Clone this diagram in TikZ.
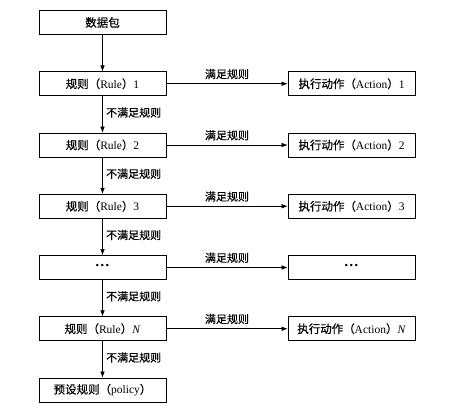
\documentclass[tikz,border=0pt]{standalone}
\usepackage{fontspec}
\setmainfont{Liberation Serif}
\newfontfamily\cjk[FakeBold=0.4]{Noto Sans CJK SC}
\usetikzlibrary{arrows.meta}
\tikzset{
  box/.style={draw,line width=0.8pt,minimum width=127pt,minimum height=24pt,inner sep=0pt,font=\fontsize{11.5}{13}\selectfont},
  arr/.style={line width=0.6pt,-{Latex[length=6pt,width=4.5pt]}},
  lab/.style={font=\cjk\fontsize{11}{13}\selectfont}
}
\newcommand\rulename[1]{{\cjk 规则（}Rule{\cjk ）}#1}
\newcommand\actname[1]{{\cjk 执行动作（}Action{\cjk ）}#1}
\newcommand\skipdots{{\fontsize{15}{15}\selectfont\textbf{···}}}
\begin{document}
\begin{tikzpicture}[x=1pt,y=-1pt]
\useasboundingbox (0,0) rectangle (456,412);
\def\l{102.5}
\def\r{351.5}
\def\h{61.25}
\def\y{22.5}
\node[box] (pkt) at (\l,\y) {\cjk 数据包};

\node[box] (r1) at (\l,\y+\h) {\rulename{1}};
\node[box] (r2) at (\l,\y+2*\h) {\rulename{2}};
\node[box] (r3) at (\l,\y+3*\h) {\rulename{3}};
\node[box] (r4) at (\l,\y+4*\h) {\skipdots};
\node[box] (r5) at (\l,\y+5*\h) {\rulename{\textit{N}}};
\node[box] (pol) at (\l,\y+6*\h) {{\cjk 预设规则（}policy{\cjk ）}};

\node[box] (a1) at (\r,\y+\h) {\actname{1}};
\node[box] (a2) at (\r,\y+2*\h) {\actname{2}};
\node[box] (a3) at (\r,\y+3*\h) {\actname{3}};
\node[box] (a4) at (\r,\y+4*\h) {\skipdots};
\node[box] (a5) at (\r,\y+5*\h) {\actname{\textit{N}}};

\draw[arr] (pkt) -- (r1);
\foreach \a/\b in {r1/r2,r2/r3,r3/r4,r4/r5,r5/pol}
  \draw[arr] (\a) -- node[lab,right,pos=0.45]{不满足规则} (\b);
\foreach \i in {1,...,5}
  \draw[arr] (r\i) -- node[lab,above=1pt]{满足规则} (a\i);
\end{tikzpicture}
\end{document}
